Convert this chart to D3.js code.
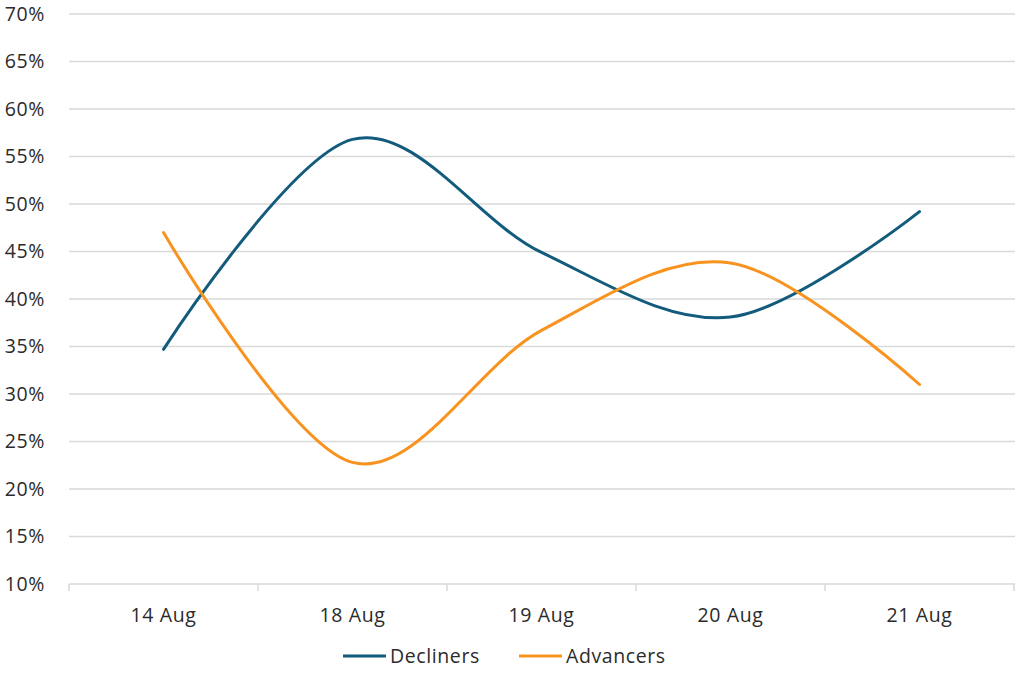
<!DOCTYPE html>
<html><head><meta charset="utf-8">
<script src="https://cdn.jsdelivr.net/npm/d3@7"></script>
<style>body{margin:0;background:#fff}svg{display:block}</style>
</head><body><svg id="c" width="1024" height="684"></svg>
<script>
const categories = ["14 Aug","18 Aug","19 Aug","20 Aug","21 Aug"];
const decliners = [34.7, 56.8, 44.9, 38.1, 49.2];
const advancers = [47.0, 22.8, 36.7, 43.8, 31.0];
const yTicks = [10,15,20,25,30,35,40,45,50,55,60,65,70];
const seriesNames = ["Decliners","Advancers"];
const seriesColors = ["#135B7C","#F7931E"];

(function(){
const svg = d3.select("#c");
const font = "'Open Sans', sans-serif";
const fs = 19.5, ls = "0.6px";
const L = 69, R = 1014, T = 14, B = 584;
const x = d3.scaleBand().domain(categories).range([L, R]);
const y = d3.scaleLinear().domain([10,70]).range([B, T]);

svg.append("g").selectAll("line").data(yTicks.filter(t=>t>10)).join("line")
  .attr("x1", L).attr("x2", R+1)
  .attr("y1", d=>y(d)).attr("y2", d=>y(d))
  .attr("stroke","#d9d9d9").attr("stroke-width",1.5);

svg.append("g").selectAll("text").data(yTicks).join("text")
  .attr("x", 45).attr("y", d=>y(d)).attr("dy","0.35em")
  .attr("text-anchor","end").attr("font-family",font).attr("font-size",fs)
  .attr("letter-spacing",ls).attr("fill","#2b2b2b").text(d=>d+"%");

const xAxis = svg.append("g").attr("transform",`translate(0,${B})`)
  .call(d3.axisBottom(x).tickSize(0).tickPadding(24));
xAxis.select(".domain").remove();
xAxis.selectAll("text").attr("font-family",font).attr("font-size",fs)
  .attr("letter-spacing",ls).attr("fill","#2b2b2b");
svg.append("line").attr("x1",L).attr("x2",R+1).attr("y1",B).attr("y2",B)
  .attr("stroke","#d9d9d9").attr("stroke-width",1.5);
const bounds = categories.map(c=>x(c)).concat([x(categories[categories.length-1])+x.bandwidth()]);
svg.append("g").selectAll("line").data(bounds).join("line")
  .attr("x1",d=>d).attr("x2",d=>d).attr("y1",B).attr("y2",B+7)
  .attr("stroke","#d9d9d9").attr("stroke-width",1.5);

const line = d3.line().x((d,i)=>x(categories[i])+x.bandwidth()/2).y(d=>y(d))
  .curve(d3.curveCatmullRom.alpha(0));
[decliners, advancers].forEach((s,i)=>{
  svg.append("path").datum(s).attr("d",line).attr("fill","none")
    .attr("stroke",seriesColors[i]).attr("stroke-width",3).attr("stroke-linecap","round");
});

const legX = [343, 519];
seriesNames.forEach((n,i)=>{
  svg.append("line").attr("x1",legX[i]).attr("x2",legX[i]+43).attr("y1",656).attr("y2",656)
    .attr("stroke",seriesColors[i]).attr("stroke-width",3);
  svg.append("text").attr("x",legX[i]+47).attr("y",656).attr("dy","0.35em")
    .attr("font-family",font).attr("font-size",fs).attr("letter-spacing",ls)
    .attr("fill","#2b2b2b").text(n);
});
})();
</script></body></html>
